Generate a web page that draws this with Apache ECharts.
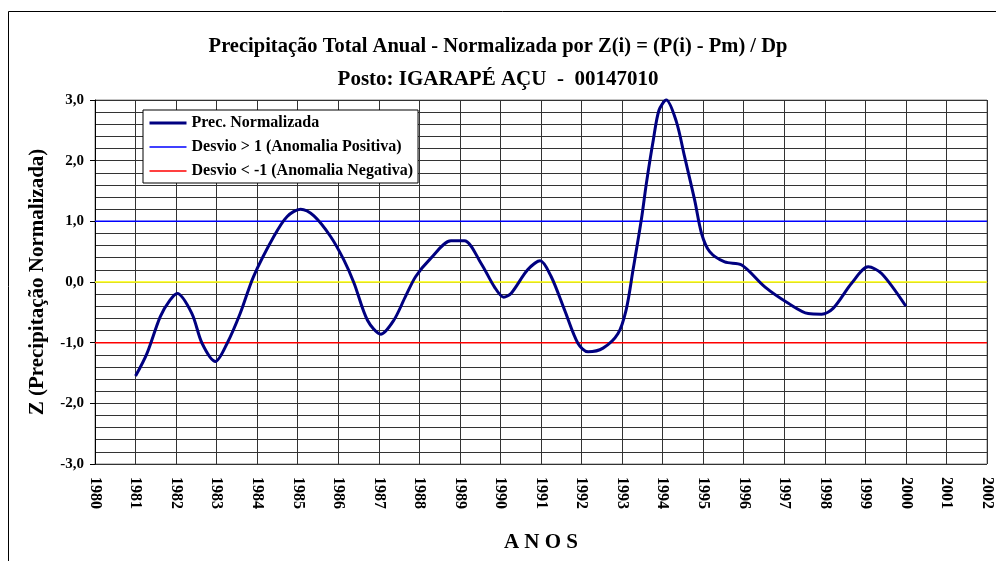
<!doctype html>
<html lang="pt">
<head>
    <meta charset="utf-8">
    <title>Precipitação Total Anual - Normalizada</title>
    <script src="https://cdn.jsdelivr.net/npm/echarts@6/dist/echarts.min.js"></script>
    <style>
        html, body { margin: 0; padding: 0; background: #fff; }
    </style>
</head>
<body>
    <div id="main" style="width: 996px;height:561px;"></div>
    <script type="text/javascript">
    // posições no eixo dos anos e valores normalizados
    var anos = [1981.00, 1981.28, 1981.61, 1981.85, 1982.03, 1982.39, 1982.64, 1982.97, 1983.26, 1983.58,
                1983.91, 1984.41, 1984.74, 1985.07, 1985.40, 1985.81, 1986.14, 1986.39, 1986.72, 1987.05,
                1987.37, 1987.65, 1987.91, 1988.28, 1988.78, 1989.11, 1989.52, 1989.85, 1990.08, 1990.26,
                1990.67, 1990.98, 1991.25, 1991.58, 1991.91, 1992.16, 1992.53, 1992.90, 1993.10, 1993.27,
                1993.48, 1993.60, 1993.77, 1993.91, 1994.09, 1994.34, 1994.54, 1994.79, 1994.96, 1995.16,
                1995.53, 1995.95, 1996.52, 1997.10, 1997.59, 1997.92, 1998.21, 1998.66, 1999.07, 1999.40,
                2000.00];
    var precNormalizada = [-1.55, -1.18, -0.57, -0.30, -0.19, -0.52, -1.01, -1.31, -1.01, -0.52,
                0.09, 0.75, 1.08, 1.20, 1.09, 0.75, 0.36, -0.02, -0.63, -0.86,
                -0.63, -0.25, 0.09, 0.39, 0.68, 0.68, 0.31, -0.08, -0.25, -0.19,
                0.20, 0.35, 0.09, -0.46, -1.01, -1.15, -1.09, -0.85, -0.46, 0.20,
                1.05, 1.63, 2.34, 2.83, 3.00, 2.64, 2.07, 1.35, 0.80, 0.50,
                0.33, 0.28, -0.08, -0.35, -0.52, -0.53, -0.43, -0.02, 0.25, 0.14,
                -0.40];
    var limiteAnos = [1980, 2002];
    var desvioPositivo = [1, 1];
    var desvioNegativo = [-1, -1];
    var media = [0, 0];

    var titulo1 = 'Precipitação Total Anual - Normalizada por Z(i) = (P(i) - Pm) / Dp';
    var titulo2 = 'Posto: IGARAPÉ AÇU  -  00147010';

    var fonte = '"Liberation Serif", "Times New Roman", serif';

    function pares(xs, ys){
        return xs.map(function(x, i){
            return [x, ys[i]];
        });
    }

    var myChart = echarts.init(document.getElementById('main'));

    var estiloTitulo = {
        fontFamily: fonte,
        fontWeight: 'bold',
        fontSize: 21,
        color: '#000'
    };

    var option = {
        animation: false,
        backgroundColor: '#fff',
        textStyle: { fontFamily: fonte },
        graphic: [{
            type: 'rect',
            shape: { x: 8.5, y: 11.5, width: 1100, height: 700 },
            style: { fill: 'none', stroke: '#000', lineWidth: 1 },
            silent: true,
            z: -10
        }],
        title: [
            { text: titulo1, left: 'center', top: 36, padding: 0, textStyle: { fontFamily: fonte, fontWeight: 'bold', fontSize: 20.5, color: '#000' } },
            { text: titulo2, left: 'center', top: 69, padding: 0, textStyle: estiloTitulo }
        ],
        legend: {
            data: [
                { name: 'Prec. Normalizada', lineStyle: { width: 3 } },
                { name: 'Desvio > 1 (Anomalia Positiva)', lineStyle: { width: 1.5 } },
                { name: 'Desvio < -1 (Anomalia Negativa)', lineStyle: { width: 1.5 } }
            ],
            orient: 'vertical',
            left: 143,
            top: 110,
            padding: [5, 5, 4, 5],
            itemWidth: 37,
            itemHeight: 14,
            itemGap: 8,
            itemStyle: { opacity: 0 },
            backgroundColor: '#fff',
            borderColor: '#000',
            borderWidth: 1,
            textStyle: {
                fontFamily: fonte,
                fontWeight: 'bold',
                fontSize: 16,
                color: '#000'
            }
        },
        grid: {
            left: 95,
            right: 9,
            top: 100,
            bottom: 97,
            show: true,
            borderColor: '#888',
            borderWidth: 1,
            backgroundColor: 'transparent'
        },
        xAxis: {
            type: 'value',
            min: 1980,
            max: 2002,
            interval: 1,
            name: 'A N O S',
            nameLocation: 'middle',
            nameGap: 68,
            nameTextStyle: estiloTitulo,
            axisLine: { show: true, lineStyle: { color: '#888', width: 1 } },
            axisTick: { show: false },
            splitLine: { show: true, lineStyle: { color: '#333', width: 1 } },
            axisLabel: {
                rotate: -90,
                margin: 13,
                fontFamily: fonte,
                fontWeight: 'bold',
                fontSize: 16,
                color: '#000',
                formatter: function(v){ return String(v); }
            }
        },
        yAxis: {
            type: 'value',
            min: -3,
            max: 3,
            interval: 1,
            name: 'Z (Precipitação Normalizada)',
            nameLocation: 'middle',
            nameGap: 47,
            nameTextStyle: estiloTitulo,
            axisLine: { show: true, lineStyle: { color: '#000', width: 1 } },
            axisTick: { show: true, length: 5, lineStyle: { color: '#000' } },
            minorTick: { show: false, splitNumber: 5 },
            splitLine: { show: true, lineStyle: { color: '#333', width: 1 } },
            minorSplitLine: { show: true, lineStyle: { color: '#333', width: 1 } },
            axisLabel: {
                margin: 11,
                fontFamily: fonte,
                fontWeight: 'bold',
                fontSize: 15,
                color: '#000',
                formatter: function(v){ return v.toFixed(1).replace('.', ','); }
            }
        },
        series: [
            {
                name: 'Média',
                type: 'line',
                data: pares(limiteAnos, media),
                symbol: 'none',
                silent: true,
                lineStyle: { color: '#ffff00', width: 1.5 },
                itemStyle: { color: '#ffff00' },
                z: 2
            },
            {
                name: 'Desvio > 1 (Anomalia Positiva)',
                type: 'line',
                data: pares(limiteAnos, desvioPositivo),
                symbol: 'none',
                lineStyle: { color: '#0000ff', width: 1.5 },
                itemStyle: { color: '#0000ff' },
                z: 2
            },
            {
                name: 'Desvio < -1 (Anomalia Negativa)',
                type: 'line',
                data: pares(limiteAnos, desvioNegativo),
                symbol: 'none',
                lineStyle: { color: '#ff0000', width: 1.5 },
                itemStyle: { color: '#ff0000' },
                z: 2
            },
            {
                name: 'Prec. Normalizada',
                type: 'line',
                data: pares(anos, precNormalizada),
                symbol: 'none',
                smooth: 0.3,
                clip: false,
                lineStyle: { color: '#000080', width: 3 },
                itemStyle: { color: '#000080' },
                z: 3
            }
        ]
    };

    myChart.setOption(option);
    </script>
</body>
</html>
